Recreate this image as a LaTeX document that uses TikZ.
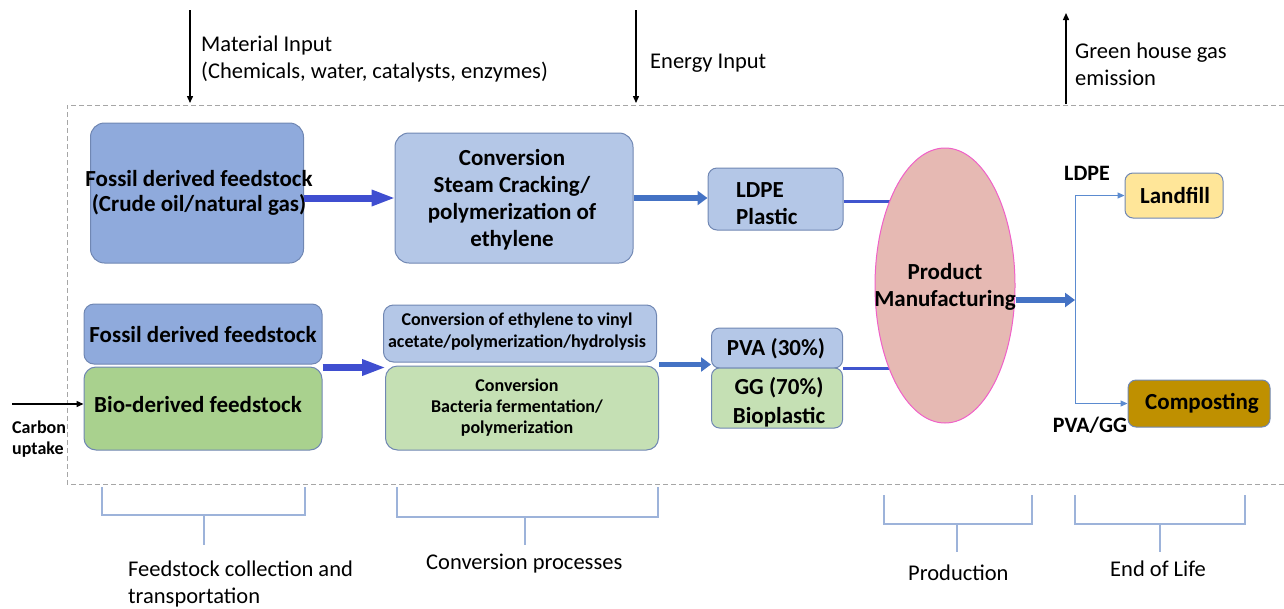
\documentclass[tikz,border=0pt]{standalone}
\usepackage{fontspec}
\setmainfont{Carlito}
\usetikzlibrary{arrows.meta,shapes.geometric,backgrounds}

\definecolor{fossil}{HTML}{8FAADC}
\definecolor{lightblue}{HTML}{B4C7E7}
\definecolor{bio}{HTML}{A9D18E}
\definecolor{lightgreen}{HTML}{C5E0B4}
\definecolor{edge}{HTML}{7087B3}
\definecolor{landfill}{HTML}{FFE699}
\definecolor{compost}{HTML}{BF9000}
\definecolor{mfg}{HTML}{E6B9B3}
\definecolor{mfgedge}{HTML}{F060C8}
\definecolor{violetblue}{HTML}{3F4ED0}
\definecolor{flowblue}{HTML}{4472C4}
\definecolor{thinblue}{HTML}{5B8BD0}
\definecolor{brace}{HTML}{9DB3DA}

\tikzset{
  box/.style={draw=edge, line width=1pt, rounded corners=#1, inner sep=0pt},
  box/.default=14pt,
  bf/.style={font=\bfseries\fontsize{23}{27}\selectfont, align=center, inner sep=0pt},
  bfs/.style={font=\bfseries\fontsize{18}{22}\selectfont, align=center, inner sep=0pt},
  txt/.style={font=\fontsize{22.5}{27}\selectfont, align=left, inner sep=0pt},
  feedarrow/.style={draw=violetblue, line width=7pt,
    -{Triangle[length=24pt,width=15pt]}, shorten >=-1pt},
  flowarrow/.style={draw=flowblue, line width=6pt,
    -{Triangle[length=10pt,width=14pt]}},
  link/.style={draw=violetblue!80!flowblue, line width=3pt},
  branch/.style={draw=thinblue, line width=1pt, -{Triangle[length=7pt,width=6pt]}},
  inarrow/.style={draw=black, line width=1.4pt, -{Triangle[length=7pt,width=6pt]}},
  bracketline/.style={draw=brace, line width=1.2pt},
}

\begin{document}
\begin{tikzpicture}[x=1pt,y=-1pt]
\useasboundingbox (0,0) rectangle (1284,608);

% system boundary (open on the right)
\draw[gray!70, line width=1pt, dash pattern=on 5pt off 3pt]
  (1284,105) -- (67,105) -- (67,484) -- (1284,484);

% inputs and emissions
\coordinate (mitop) at (190,10);
\coordinate (mibot) at (190,103);
\draw[inarrow] (mitop) -- (mibot);
\node[txt, anchor=north west] (mitext) at (201,36)
  {Material Input\\(Chemicals, water, catalysts, enzymes)};

\coordinate (eitop) at (636,10);
\coordinate (eibot) at (636,103);
\draw[inarrow] (eitop) -- (eibot);
\node[txt, anchor=north west] (eitext) at (650,54) {Energy Input};

\coordinate (ghgbot) at (1066,104);
\coordinate (ghgtop) at (1066,13);
\draw[inarrow] (ghgbot) -- (ghgtop);
\node[txt, anchor=north west] (ghgtext) at (1075,43) {Green house gas\\emission};

% fossil route (LDPE)
\node[box, fill=fossil, minimum width=213pt, minimum height=140pt] (fossil1) at (197,193) {};
\node[bf, font=\bfseries\fontsize{23}{25}\selectfont] (fossil1text) at (199,193)
  {Fossil derived feedstock\\(Crude oil/natural gas)};
\node[box, fill=lightblue, minimum width=238pt, minimum height=130pt] (conv1) at (514,198) {};
\node[bf] (conv1text) at (512,200)
  {Conversion\\Steam Cracking/\\polymerization of\\ethylene};
\node[box=9pt, fill=lightblue, minimum width=135pt, minimum height=62pt] (ldpe) at (775.5,199) {};
\node[bf, align=left, font=\bfseries\fontsize{23}{27}\selectfont, anchor=west]
  (ldpetext) at (736,203.5) {LDPE\\Plastic};

% bio route (PVA / GG)
\node[box=10pt, fill=fossil, minimum width=238pt, minimum height=60pt] (fossil2) at (203,334) {};
\node[bf] (fossil2text) at (203,335) {Fossil derived feedstock};
\node[box=12pt, fill=bio, minimum width=238pt, minimum height=83pt] (bio) at (203,408.5) {};
\node[bf] (biotext) at (198,405) {Bio-derived feedstock};
\node[box=10pt, fill=lightblue, minimum width=273pt, minimum height=57pt] (conv2a) at (520,333.5) {};
\node[bfs] (conv2atext) at (517,332)
  {Conversion of ethylene to vinyl\\acetate/polymerization/hydrolysis};
\node[box=12pt, fill=lightgreen, minimum width=273pt, minimum height=84pt] (conv2b) at (522,408) {};
\node[bfs, font=\bfseries\fontsize{18}{21}\selectfont] (conv2btext) at (517,407.5)
  {Conversion\\Bacteria fermentation/\\polymerization};
\node[box=8pt, fill=lightblue, minimum width=131pt, minimum height=40pt] (pva) at (777,348) {};
\node[bf] (pvatext) at (776,349) {PVA (30\%)};
\node[box=8pt, fill=lightgreen, minimum width=131pt, minimum height=60pt] (gg) at (777,398) {};
\node[bf, font=\bfseries\fontsize{23}{29}\selectfont] (ggtext) at (779,402.5)
  {GG (70\%)\\Bioplastic};

% manufacturing
\node[ellipse, draw=mfgedge, line width=1pt, fill=mfg, minimum width=140pt,
  minimum height=275pt, inner sep=0pt] (mfg) at (945,285.5) {};
\node[bf] (mfgtext) at (945,286.5) {Product\\Manufacturing};

% end of life
\node[box=8pt, fill=landfill, minimum width=98pt, minimum height=45pt] (landfill) at (1174,195.5) {};
\node[bf] (landfilltext) at (1175,195.5) {Landfill};
\node[box=8pt, fill=compost, minimum width=142pt, minimum height=47pt] (compost) at (1199,403.5) {};
\node[bf] (composttext) at (1202,403.5) {Composting};
\node[bf, font=\bfseries\fontsize{22}{26}\selectfont] (ldpelab) at (1087,173) {LDPE};
\node[bf, font=\bfseries\fontsize{22}{26}\selectfont] (pvalab) at (1090,425) {PVA/GG};

% carbon uptake
\coordinate (custart) at (12,404);
\draw[inarrow] (custart) -- (bio.west |- custart);
\node[font=\bfseries\fontsize{18}{21}\selectfont, align=left, inner sep=0pt,
  anchor=north west] (cutext) at (12,421) {Carbon\\uptake};

% flows
\draw[feedarrow] (fossil1.east |- conv1.west) -- (conv1.west);
\draw[flowarrow] (conv1.east) -- (ldpe.west |- conv1.east);
\draw[feedarrow] ([yshift=-1pt]bio.north east) -- ([yshift=-1pt]bio.north east -| conv2b.west);
\draw[flowarrow, line width=5pt] ([yshift=1pt]conv2b.north east) -- ([yshift=1pt]conv2b.north east -| pva.west);
\begin{scope}[on background layer]
  \draw[link] ([yshift=-2pt]ldpe.east) -- ([yshift=-2pt]ldpe.east -| mfg.center);
  \draw[link] (pva.south east) -- (pva.south east -| mfg.center);
\end{scope}

\coordinate (split) at (1075,300);
\coordinate (splittop) at (1075,195.5);
\coordinate (splitbot) at (1075,403.5);
\draw[flowarrow] (split -| mfg.east) -- (split);
\draw[thinblue, line width=1pt] (splittop) -- (splitbot);
\draw[branch] (splittop) -- (landfill.west);
\draw[branch] (splitbot) -- (compost.west);

% life-cycle stage brackets
\draw[bracketline] (102,487) -- (102,515) -- (305,515) -- (305,487);
\draw[bracketline] (204,515) -- (204,545);
\draw[bracketline] (397,487) -- (397,517) -- (658,517) -- (658,487);
\draw[bracketline] (525,517) -- (525,545);
\draw[bracketline] (884,495) -- (884,524) -- (1032,524) -- (1032,495);
\draw[bracketline] (957,524) -- (957,552);
\draw[bracketline] (1075,495) -- (1075,524) -- (1245,524) -- (1245,495);
\draw[bracketline] (1160,524) -- (1160,552);

\node[txt, anchor=north west] (stage1) at (128,561) {Feedstock collection and\\transportation};
\node[txt, anchor=north west] (stage2) at (426,554) {Conversion processes};
\node[txt, anchor=north west] (stage3) at (908,565) {Production};
\node[txt, anchor=north west] (stage4) at (1110,561) {End of Life};
\end{tikzpicture}
\end{document}
